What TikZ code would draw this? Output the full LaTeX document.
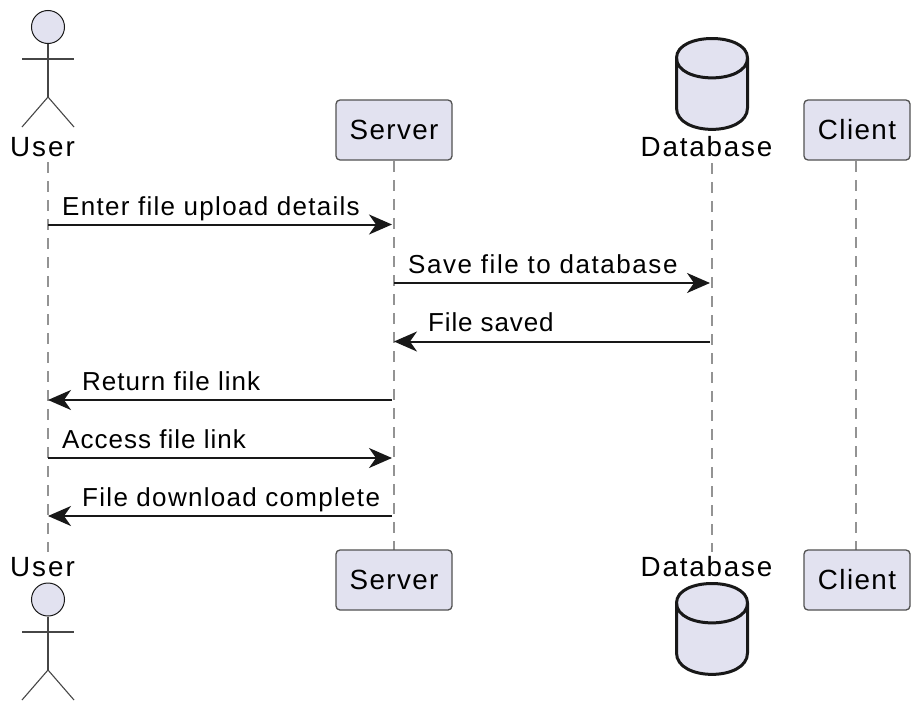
\documentclass[tikz,border=0pt]{standalone}
\usepackage{fontspec}
\setmainfont[LetterSpace=5]{Liberation Sans}
\newfontfamily\widename[LetterSpace=7.5]{Liberation Sans}
\usetikzlibrary{arrows.meta}

\definecolor{partfill}{HTML}{E2E2F0}
\definecolor{partline}{HTML}{181818}

\tikzset{
    lifeline/.style={line width=1.8pt, gray!85, dash pattern=on 11pt off 8pt},
    message/.style={line width=2pt, partline, -{Stealth[length=23pt, width=20pt, inset=7pt]}},
    msglabel/.style={anchor=base west, inner sep=0pt, text=black, font=\fontsize{26}{31}\selectfont},
    partbox/.style={draw=partline!75, line width=1.3pt, fill=partfill, rounded corners=4pt, minimum height=60pt, inner sep=0pt, text=black, font=\fontsize{27.8}{33}\selectfont},
    partname/.style={inner sep=0pt, anchor=base, text=black, font=\fontsize{27.8}{33}\selectfont\widename},
    actorhead/.style={circle, draw=partline, line width=1pt, fill=partfill, minimum size=33pt, inner sep=0pt},
    limb/.style={draw=partline!80, line width=1.1pt},
    dbline/.style={draw=partline, line width=3pt, fill=partfill, line join=round}
}

\begin{document}
\begin{tikzpicture}[x=1pt, y=-1pt]
    \useasboundingbox (0,0) rectangle (922,712);

    % Lifeline ends
    \coordinate (userTop) at (48,162);
    \coordinate (userBot) at (48,552);
    \coordinate (serverTop) at (394,161);
    \coordinate (serverBot) at (394,550);
    \coordinate (dbTop) at (712,163);
    \coordinate (dbBot) at (712,552);
    \coordinate (clientTop) at (856,161);
    \coordinate (clientBot) at (856,550);

    % Lifelines
    \draw[lifeline] (userTop) -- (userBot);
    \draw[lifeline] (serverTop) -- (serverBot);
    \draw[lifeline] (dbTop) -- (dbBot);
    \draw[lifeline] (clientTop) -- (clientBot);

    % Boxes
    \node[partbox, minimum width=116pt] (serverHead) at (394,130) {Server};
    \node[partbox, minimum width=106pt] (clientHead) at (857,130) {Client};
    \node[partbox, minimum width=116pt] (serverFoot) at (394,580) {Server};
    \node[partbox, minimum width=106pt] (clientFoot) at (857,580) {Client};

    % Actor, top
    \node[actorhead] (userHeadTop) at (48,27) {};
    \coordinate (userHipTop) at (48,97);
    \coordinate (userArmLTop) at (22,59);
    \coordinate (userArmRTop) at (74,59);
    \coordinate (userFootLTop) at (22,127);
    \coordinate (userFootRTop) at (74,127);
    \draw[limb] (userHeadTop) -- (userHipTop);
    \draw[limb] (userArmLTop) -- (userArmRTop);
    \draw[limb] (userFootLTop) -- (userHipTop) -- (userFootRTop);
    \node[partname] (userNameTop) at (42.5,156) {User};

    % Actor, bottom
    \node[actorhead] (userHeadBot) at (48,599.5) {};
    \coordinate (userHipBot) at (48,670);
    \coordinate (userArmLBot) at (22,632);
    \coordinate (userArmRBot) at (74,632);
    \coordinate (userFootLBot) at (22,700);
    \coordinate (userFootRBot) at (74,700);
    \draw[limb] (userHeadBot) -- (userHipBot);
    \draw[limb] (userArmLBot) -- (userArmRBot);
    \draw[limb] (userFootLBot) -- (userHipBot) -- (userFootRBot);
    \node[partname] (userNameBot) at (42.5,576) {User};

    % Database, top
    \draw[dbline] (676.5,58) .. controls (676.5,32) and (747.5,32) .. (747.5,58)
        -- (747.5,108) .. controls (747.5,136.5) and (676.5,136.5) .. (676.5,108) -- cycle;
    \draw[dbline, fill=none] (676.5,58) .. controls (676.5,84.5) and (747.5,84.5) .. (747.5,58);
    \node[partname] (dbNameTop) at (706.5,156) {\addfontfeature{LetterSpace=6.5}Database};

    % Database, bottom
    \draw[dbline] (676.5,603) .. controls (676.5,577) and (747.5,577) .. (747.5,603)
        -- (747.5,653) .. controls (747.5,681.5) and (676.5,681.5) .. (676.5,653) -- cycle;
    \draw[dbline, fill=none] (676.5,603) .. controls (676.5,629.5) and (747.5,629.5) .. (747.5,603);
    \node[partname] (dbNameBot) at (706.5,576) {\addfontfeature{LetterSpace=6.5}Database};

    % Message ends
    \coordinate (userA) at (48,224.5);
    \coordinate (serverA) at (392,224.5);
    \coordinate (serverB) at (394,283);
    \coordinate (dbB) at (710,283);
    \coordinate (dbC) at (710,341.5);
    \coordinate (serverC) at (394,341.5);
    \coordinate (serverD) at (392,400);
    \coordinate (userD) at (48,400);
    \coordinate (userE) at (48,458);
    \coordinate (serverE) at (392,458);
    \coordinate (serverF) at (392,516);
    \coordinate (userF) at (48,516);

    % Messages
    \draw[message] (userA) -- (serverA);
    \draw[message] (serverB) -- (dbB);
    \draw[message] (dbC) -- (serverC);
    \draw[message] (serverD) -- (userD);
    \draw[message] (userE) -- (serverE);
    \draw[message] (serverF) -- (userF);

    % Message labels
    \node[msglabel] (msgEnter) at (62,215) {Enter file upload details};
    \node[msglabel] (msgSave) at (408,273) {\addfontfeature{LetterSpace=6}Save file to database};
    \node[msglabel] (msgSaved) at (428,331) {\addfontfeature{LetterSpace=3.3}File saved};
    \node[msglabel] (msgReturn) at (82,390) {\addfontfeature{LetterSpace=3.9}Return file link};
    \node[msglabel] (msgAccess) at (62,448) {\addfontfeature{LetterSpace=3.9}Access file link};
    \node[msglabel] (msgDone) at (82,506) {File download complete};
\end{tikzpicture}
\end{document}
